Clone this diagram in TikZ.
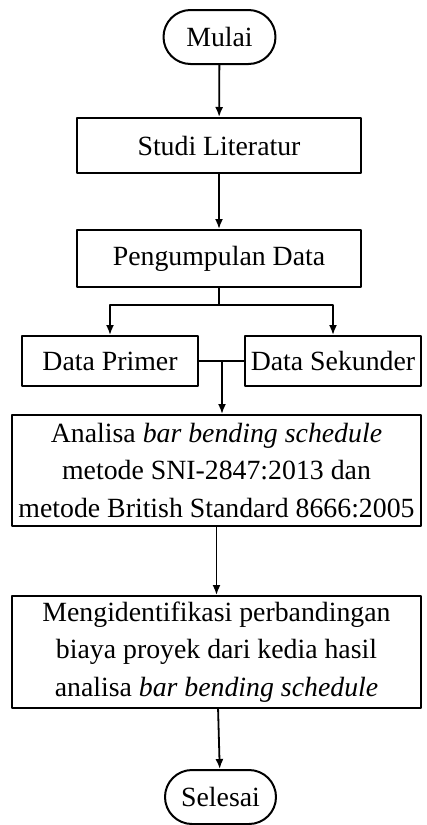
\documentclass[tikz,border=0pt]{standalone}
\usepackage{fontspec}
\setmainfont{Liberation Serif}
\usetikzlibrary{arrows.meta}
\begin{document}
\begin{tikzpicture}[x=0.5pt, y=-0.5pt, line cap=round, line join=round,
		font=\fontsize{13.9}{18.6}\selectfont,
		terminal/.style={draw=black, line width=1pt, rounded corners=13.5pt, minimum width=56pt, minimum height=27pt, inner sep=0pt},
		process/.style={draw=black, line width=1pt, minimum height=27.5pt, inner sep=0pt, align=center},
		arrow/.style={-{Latex[length=5pt, width=4pt]}, line width=0.9pt},
		link/.style={line width=0.9pt}]
	\useasboundingbox (0, 0) rectangle (427, 825);
	% Start
	\node [terminal] (mulai) at (219.5, 37) {Mulai};
	% Study and data
	\node [process, minimum width=142pt] (studi) at (219, 145.5) {Studi Literatur};
	\node [process, minimum width=142pt, minimum height=28.5pt] (pengumpulan) at (219, 258.5) {Pengumpulan Data};
	% Data sources
	\node [process, minimum width=88pt, minimum height=25pt] (primer) at (110, 361) {Data Primer};
	\node [process, minimum width=88pt, minimum height=25pt] (sekunder) at (333, 361) {Data Sekunder};
	% Analysis
	\node [process, minimum width=204.5pt, minimum height=55.5pt] (analisa) at (216.5, 470.5) {Analisa \textit{bar bending schedule}\\metode SNI-2847:2013 dan\\metode British Standard 8666:2005};
	\node [process, minimum width=204.5pt, minimum height=56pt] (identifikasi) at (216.5, 652) {Mengidentifikasi perbandingan\\biaya proyek dari kedia hasil\\analisa \textit{bar bending schedule}};
	% End
	\node [terminal, minimum width=55.5pt] (selesai) at (220.5, 797) {Selesai};
	% Branch points
	\coordinate (split) at (219, 305);
	\coordinate (join) at (222, 361);
	% Arrows
	\draw [arrow] (mulai) -- (studi);
	\draw [arrow] (studi) -- (pengumpulan);
	\draw [link] (pengumpulan) -- (split);
	\draw [arrow] (split) -| (primer);
	\draw [arrow] (split) -| (sekunder);
	\draw [link] (primer) -- (sekunder);
	\draw [arrow] (join) -- (join |- analisa.north);
	\draw [arrow] (analisa) -- (identifikasi);
	\draw [arrow] (identifikasi) -- (selesai);
\end{tikzpicture}
\end{document}
